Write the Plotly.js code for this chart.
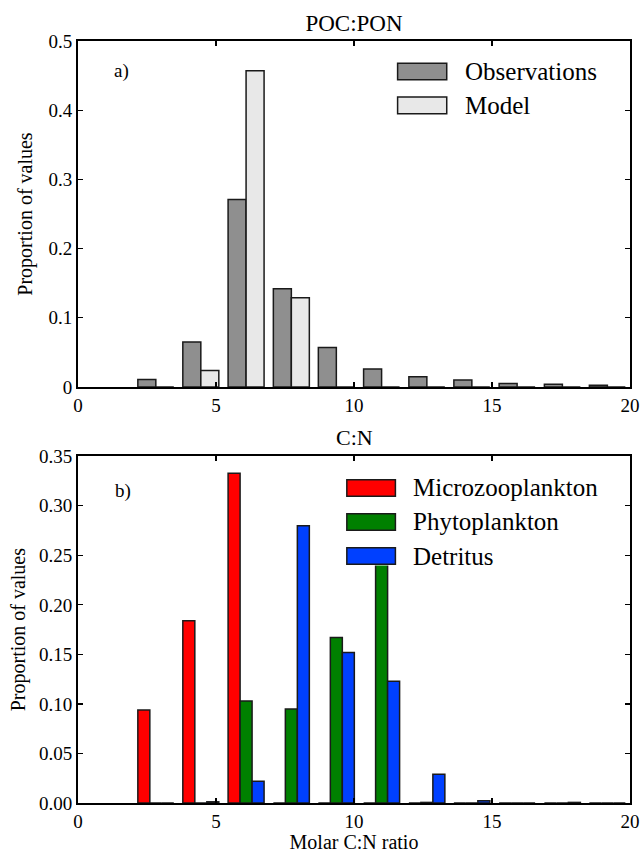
<!DOCTYPE html>
<html>
<head>
<meta charset="utf-8">
<script src="https://cdn.plot.ly/plotly-3.0.1.min.js"></script>
<style>
html,body{margin:0;padding:0;background:#fff;}
#chart{width:642px;height:853px;}
</style>
</head>
<body>
<div id="chart"></div>
<script>
// Histogram bin centres (11 bins between 2 and 20)
const binCenters = [2.82, 4.45, 6.09, 7.73, 9.36, 11.0, 12.64, 14.27, 15.91, 17.55, 19.18];

// Panel a) POC:PON
const observations = [0.011, 0.065, 0.271, 0.142, 0.057, 0.026, 0.015, 0.010, 0.005, 0.004, 0.0025];
const model        = [0, 0.024, 0.457, 0.129, 0, 0, 0, 0, 0, 0, 0];

// Panel b) C:N
const microzooplankton = [0.094, 0.184, 0.333, 0, 0, 0, 0, 0, 0, 0, 0];
const phytoplankton    = [0, 0, 0.103, 0.095, 0.167, 0.30, 0.0006, 0, 0, 0, 0];
const detritus         = [0, 0.0012, 0.022, 0.280, 0.152, 0.123, 0.029, 0.0022, 0, 0.0006, 0];

const namesTop = ["Observations", "Model"];
const namesBottom = ["Microzooplankton", "Phytoplankton", "Detritus"];
const colorsTop = ["#8f8f8f", "#e8e8e8"];
const colorsBottom = ["#ff0000", "#008000", "#0040ff"];

const xTicks = [0, 5, 10, 15, 20];
const yTicksTop = [0, 0.1, 0.2, 0.3, 0.4, 0.5];
const yTicksBottom = [0, 0.05, 0.10, 0.15, 0.20, 0.25, 0.30, 0.35];

const FONT = "Liberation Serif";
const edge = {color: "#1a1a1a", width: 1.5};

function barTrace(y, name, color, xa, ya) {
  return {type: "bar", x: binCenters, y: y, name: name, xaxis: xa, yaxis: ya,
          marker: {color: color, line: edge}, showlegend: false, hoverinfo: "skip"};
}

const traces = [
  barTrace(observations, namesTop[0], colorsTop[0], "x", "y"),
  barTrace(model, namesTop[1], colorsTop[1], "x", "y"),
  barTrace(microzooplankton, namesBottom[0], colorsBottom[0], "x2", "y2"),
  barTrace(phytoplankton, namesBottom[1], colorsBottom[1], "x2", "y2"),
  barTrace(detritus, namesBottom[2], colorsBottom[2], "x2", "y2")
];

const axBase = {
  showline: true, linecolor: "#000", linewidth: 2, mirror: "ticks",
  ticks: "inside", ticklen: 5, tickwidth: 1.2, tickcolor: "#000",
  showgrid: false, zeroline: false, fixedrange: true,
  tickfont: {family: FONT, size: 19, color: "#000"}
};

const shapes = [];
const annotations = [];

// white legend backdrop for panel b (legend covers bar)
shapes.push({type: "rect", xref: "x2 domain", yref: "y2 domain",
  x0: 0.478, x1: 0.972, y0: 0.685, y1: 0.945,
  fillcolor: "#fff", line: {width: 0}, layer: "above"});

function legendItems(names, colors, xd, yd, rowsY, symX0, symX1, textX) {
  names.forEach((n, i) => {
    shapes.push({type: "rect", xref: xd, yref: yd, x0: symX0, x1: symX1,
      y0: rowsY[i] - 0.024, y1: rowsY[i] + 0.024,
      fillcolor: colors[i], line: {color: "#1a1a1a", width: 1.5}, layer: "above"});
    annotations.push({xref: xd, yref: yd, x: textX, y: rowsY[i], text: n,
      showarrow: false, xanchor: "left", yanchor: "middle",
      font: {family: FONT, size: 25, color: "#000"}});
  });
}
legendItems(namesTop, colorsTop, "x domain", "y domain", [0.912, 0.814], 0.579, 0.668, 0.697);
legendItems(namesBottom, colorsBottom, "x2 domain", "y2 domain", [0.9086, 0.8105, 0.7124], 0.487, 0.575, 0.604);

annotations.push({xref: "x domain", yref: "y domain", x: 0.079, y: 0.912, text: "a)",
  showarrow: false, xanchor: "center", yanchor: "middle", font: {family: FONT, size: 19, color: "#000"}});
annotations.push({xref: "x2 domain", yref: "y2 domain", x: 0.081, y: 0.9, text: "b)",
  showarrow: false, xanchor: "center", yanchor: "middle", font: {family: FONT, size: 19, color: "#000"}});
annotations.push({xref: "x domain", yref: "paper", x: 0.5, y: 0.455, yshift: 4, text: "C:N",
  showarrow: false, xanchor: "center", yanchor: "bottom", font: {family: FONT, size: 22, color: "#000"}});

const layout = {
  width: 642, height: 853,
  margin: {l: 78, r: 12, t: 40.7, b: 50.3},
  paper_bgcolor: "#fff", plot_bgcolor: "#fff",
  barmode: "group", bargap: 0.2, bargroupgap: 0,
  showlegend: false,
  font: {family: FONT, color: "#000"},
  title: {text: "POC:PON", x: 0.5, xref: "paper", y: 0.973, yref: "container",
          xanchor: "center", yanchor: "middle", font: {family: FONT, size: 23, color: "#000"}},
  xaxis: Object.assign({}, axBase, {domain: [0, 1], anchor: "y", range: [0, 20],
          tickvals: xTicks, ticktext: xTicks.map(String)}),
  yaxis: Object.assign({}, axBase, {domain: [0.5459, 1], anchor: "x", range: [0, 0.5],
          tickvals: yTicksTop, ticktext: yTicksTop.map(v => v === 0 ? "0" : String(v)),
          title: {text: "Proportion of values", font: {family: FONT, size: 20, color: "#000"}, standoff: 10}}),
  xaxis2: Object.assign({}, axBase, {domain: [0, 1], anchor: "y2", range: [0, 20],
          tickvals: xTicks, ticktext: xTicks.map(String),
          title: {text: "Molar C:N ratio", font: {family: FONT, size: 20, color: "#000"}, standoff: 4}}),
  yaxis2: Object.assign({}, axBase, {domain: [0, 0.455], anchor: "x2", range: [0, 0.35],
          tickvals: yTicksBottom, ticktext: yTicksBottom.map(v => v.toFixed(2)),
          title: {text: "Proportion of values", font: {family: FONT, size: 20, color: "#000"}, standoff: 8}}),
  shapes: shapes,
  annotations: annotations
};

Plotly.newPlot("chart", traces, layout, {displayModeBar: false, staticPlot: true});
</script>
</body>
</html>
